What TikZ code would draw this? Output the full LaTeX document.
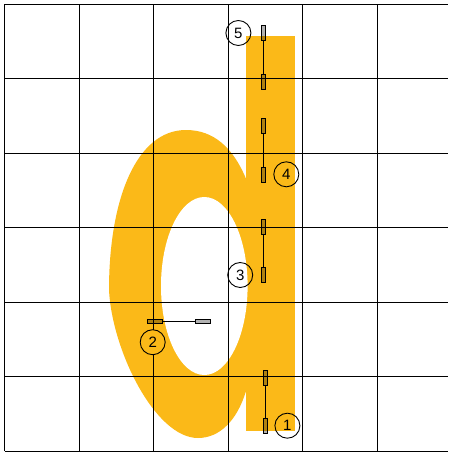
\documentclass[tikz,border=0pt]{standalone}
\usepackage{fontspec}
\setsansfont{Liberation Sans}
\usetikzlibrary{positioning}
\definecolor{dyellow}{RGB}{251,185,24}

\begin{document}
\begin{tikzpicture}[x=1pt,y=-1pt,
  gridline/.style={draw=black,line width=0.8pt},
  handle/.style={draw=black,line width=0.6pt,fill=black,fill opacity=0.3,inner sep=0pt,minimum width=4.3pt,minimum height=15pt},
  hhandle/.style={handle,minimum width=15pt,minimum height=4.3pt},
  num/.style={circle,draw=black,line width=0.9pt,minimum size=25pt,inner sep=0pt,font=\sffamily\fontsize{15}{15}\selectfont}]
\useasboundingbox (0,0) rectangle (448,455);
% the letter
\fill[dyellow] (245.7,178) .. controls (233,148) and (214,130) .. (186,130)
  .. controls (136,130) and (109,200) .. (109,290)
  .. controls (112,350) and (155,438) .. (198,438)
  .. controls (220,438) and (237,420) .. (245.7,392)
  -- (260,392) -- (260,178) -- cycle;
\fill[dyellow] (245.7,35.7) rectangle (295.3,430.7);
\fill[white] (204.3,286) ellipse [x radius=43.3,y radius=89];
% grid
\foreach \i in {0,...,6} {
  \draw[gridline] ({4.7+74.5*\i},4) -- ({4.7+74.5*\i},451);
  \draw[gridline] (4.7,{4+74.5*\i}) -- (448,{4+74.5*\i});
}
% strokes
\node[handle] (h5a) at (263.3,33) {};
\node[handle] (h5b) at (263.3,81.7) {};
\node[handle] (h4a) at (263.5,126) {};
\node[handle] (h4b) at (263.5,174.3) {};
\node[handle] (h3a) at (263,226.7) {};
\node[handle] (h3b) at (263,275) {};
\node[hhandle] (h2a) at (154.3,321.3) {};
\node[hhandle] (h2b) at (202.7,321.3) {};
\node[handle] (h1a) at (265,377.3) {};
\node[handle] (h1b) at (265,425.7) {};
\path[draw,line width=1pt]
(h5a) -- (h5b) (h4a) -- (h4b) (h3a) -- (h3b) (h2a) -- (h2b) (h1a) -- (h1b)
;
% numbers
\node[num,left=9.5pt of h5a] (c5) {5};
\node[num,right=7.4pt of h4b] (c4) {4};
\node[num,left=7.4pt of h3b] (c3) {3};
\node[num,fill=dyellow,below=5.5pt of h2a,xshift=-1.6pt] (c2) {2};
\node[num,right=7pt of h1b] (c1) {1};
\end{tikzpicture}
\end{document}
